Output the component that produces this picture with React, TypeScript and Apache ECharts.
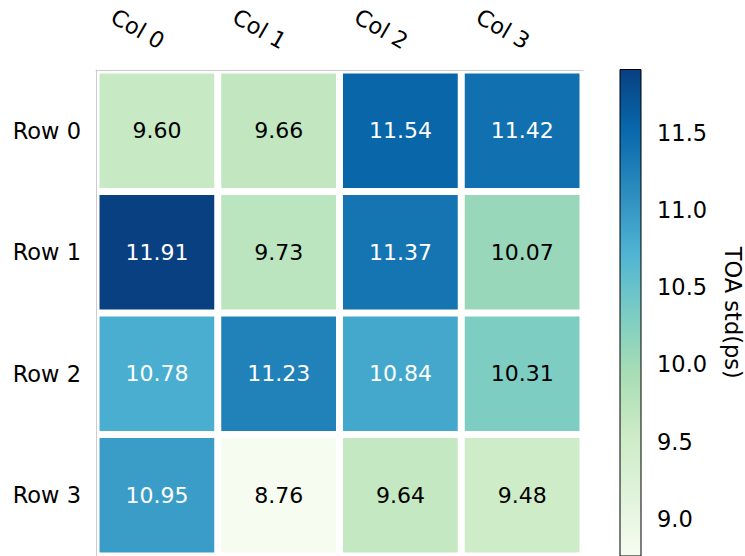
import React, { useEffect, useRef } from "react";
import * as echarts from "echarts";

// Heatmap of TOA standard deviation per channel (rows x columns), in ps.
const colLabels = ["Col 0", "Col 1", "Col 2", "Col 3"];
const rowLabels = ["Row 0", "Row 1", "Row 2", "Row 3"];
const toaStd = [
  [9.6, 9.66, 11.54, 11.42],
  [11.91, 9.73, 11.37, 10.07],
  [10.78, 11.23, 10.84, 10.31],
  [10.95, 8.76, 9.64, 9.48],
];
const colorbarTicks = [9.0, 9.5, 10.0, 10.5, 11.0, 11.5];
const colorbarTitle = "TOA std(ps)";

// GnBu colour ramp, low -> high
const gnbu = [
  "#f7fcf0",
  "#e0f3db",
  "#ccebc5",
  "#a8ddb5",
  "#7bccc4",
  "#4eb3d3",
  "#2b8cbe",
  "#0868ac",
  "#084081",
];

const FONT = '"DejaVu Sans", sans-serif';
const FS = 22.5;
const CELL_FS = 22;

export default function App() {
  const ref = useRef<HTMLDivElement>(null);

  useEffect(() => {
    if (!ref.current) return;
    const chart = echarts.init(ref.current, undefined, { renderer: "svg" });

    const flat = toaStd.flat();
    const vMin = Math.min(...flat);
    const vMax = Math.max(...flat);
    const threshold = (vMin + vMax) / 2;

    const cells: number[][] = [];
    toaStd.forEach((row, r) =>
      row.forEach((v, c) => cells.push([c, r, v]))
    );

    const gap = 3.5;

    chart.setOption({
      animation: false,
      backgroundColor: "#ffffff",
      textStyle: { fontFamily: FONT },
      grid: [
        { left: 96, top: 70, width: 487, height: 488 },
        { left: 620, top: 69.5, width: 25, height: 488 },
      ],
      visualMap: {
        show: false,
        type: "continuous",
        seriesIndex: 0,
        dimension: 2,
        min: vMin,
        max: vMax,
        inRange: { color: gnbu },
      },
      xAxis: [
        {
          type: "category",
          gridIndex: 0,
          data: colLabels,
          position: "top",
          axisLine: { lineStyle: { color: "#cccccc", width: 1 } },
          axisTick: {
            alignWithLabel: true,
            length: 7,
            lineStyle: { color: "#000000", width: 1 },
          },
          axisLabel: {
            rotate: 30,
            align: "right",
            verticalAlign: "bottom",
            margin: 17,
            fontSize: FS,
            fontFamily: FONT,
            color: "#000000",
          },
          splitLine: { show: false },
        },
        { type: "value", gridIndex: 1, min: 0, max: 1, show: false },
      ],
      yAxis: [
        {
          type: "category",
          gridIndex: 0,
          data: rowLabels,
          inverse: true,
          axisLine: { lineStyle: { color: "#cccccc", width: 1 } },
          axisTick: {
            alignWithLabel: true,
            length: 7,
            lineStyle: { color: "#000000", width: 1 },
          },
          axisLabel: {
            margin: 15,
            fontSize: FS,
            fontFamily: FONT,
            color: "#000000",
          },
          splitLine: { show: false },
        },
        {
          type: "value",
          gridIndex: 1,
          position: "right",
          min: vMin,
          max: vMax,
          axisLine: { show: false },
          splitLine: { show: false },
          axisTick: {
            show: true,
            customValues: colorbarTicks,
            length: 6,
            lineStyle: { color: "#000000", width: 1 },
          },
          axisLabel: {
            customValues: colorbarTicks,
            formatter: (v: number) => v.toFixed(1),
            margin: 16,
            fontSize: FS,
            fontFamily: FONT,
            color: "#000000",
          },
          name: colorbarTitle,
          nameLocation: "middle",
          nameRotate: -90,
          nameGap: 80,
          nameTextStyle: { fontSize: FS, fontFamily: FONT, color: "#000000" },
        },
      ],
      series: [
        {
          type: "custom",
          xAxisIndex: 0,
          yAxisIndex: 0,
          data: cells,
          renderItem: (_params: any, api: any) => {
            const v = api.value(2);
            const c = api.coord([api.value(0), api.value(1)]);
            const s = api.size([1, 1]);
            return {
              type: "group",
              children: [
                {
                  type: "rect",
                  shape: {
                    x: c[0] - s[0] / 2 + gap,
                    y: c[1] - s[1] / 2 + gap,
                    width: s[0] - 2 * gap,
                    height: s[1] - 2 * gap,
                  },
                  style: { fill: api.visual("color") },
                },
                {
                  type: "text",
                  x: c[0],
                  y: c[1],
                  style: {
                    text: v.toFixed(2),
                    fill: v > threshold ? "#ffffff" : "#000000",
                    fontSize: CELL_FS,
                    fontFamily: FONT,
                    align: "center",
                    verticalAlign: "middle",
                  },
                },
              ],
            };
          },
        },
        {
          type: "custom",
          xAxisIndex: 1,
          yAxisIndex: 1,
          data: [[0, vMin]],
          renderItem: (_params: any, api: any) => {
            const top = api.coord([0, vMax]);
            const bottom = api.coord([1, vMin]);
            return {
              type: "rect",
              shape: {
                x: top[0],
                y: top[1],
                width: bottom[0] - top[0],
                height: bottom[1] - top[1],
              },
              style: {
                fill: new echarts.graphic.LinearGradient(
                  0,
                  0,
                  0,
                  1,
                  gnbu
                    .slice()
                    .reverse()
                    .map((color, i) => ({ offset: i / (gnbu.length - 1), color }))
                ),
                stroke: "#000000",
                lineWidth: 1,
              },
            };
          },
        },
      ],
    });

    return () => chart.dispose();
  }, []);

  return (
    <div
      ref={ref}
      style={{ position: "absolute", left: 0, top: 0, width: 745, height: 556 }}
    />
  );
}
